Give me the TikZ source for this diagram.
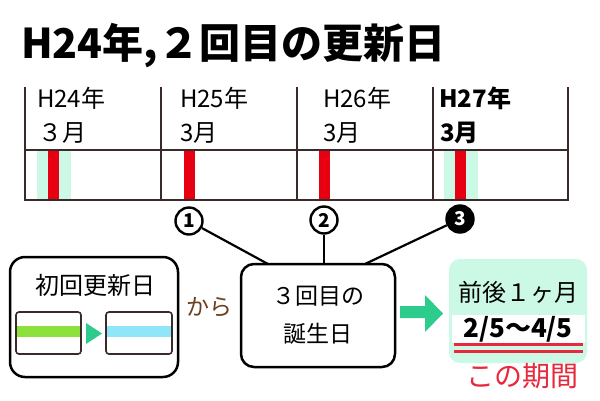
\documentclass[tikz,border=0pt]{standalone}
\usepackage{fontspec}
\setmainfont{Noto Sans CJK JP}
\definecolor{tabc}{HTML}{3A2A2A}
\definecolor{redbar}{HTML}{E60012}
\definecolor{mint}{HTML}{CCF8E6}
\definecolor{arrowg}{HTML}{2DCB8C}
\definecolor{greenbar}{HTML}{8EE03C}
\definecolor{cyanbar}{HTML}{8EE6F8}
\definecolor{brownt}{HTML}{6B3F1F}
\definecolor{redt}{HTML}{E8283C}
\tikzset{
  tline/.style={line width=1.8pt, draw=tabc},
  celltxt/.style={anchor=base west, inner sep=0pt, font=\fontsize{24}{24}\selectfont},
  rbar/.style={fill=redbar, draw=none},
  band/.style={fill=mint, draw=none},
  numc/.style={circle, draw=black, line width=2.4pt, minimum size=27pt, inner sep=0pt, font=\bfseries\fontsize{19}{19}\selectfont},
  conn/.style={line width=2.2pt, draw=black},
  bigbox/.style={draw=black, line width=2.5pt, rounded corners=13pt},
  minibox/.style={draw=tabc, line width=1.6pt, rounded corners=3pt},
}
\begin{document}
\begin{tikzpicture}[x=1pt,y=-1pt]
\useasboundingbox[fill=white] (0,0) rectangle (600,400);
% title
\node[anchor=base west, inner sep=0pt, font=\bfseries\fontsize{41}{41}\selectfont] (title) at (21,58) {H24年,２回目の更新日};
% table bands and bars
\fill[band] (37,150) rectangle (71,200);
\fill[band] (444,150) rectangle (478,200);
\fill[rbar] (48,150) rectangle (59,200);
\fill[rbar] (184,150) rectangle (195,200);
\fill[rbar] (319,150) rectangle (330,200);
\fill[rbar] (455,150) rectangle (466,200);
% table lines
\foreach \xx in {25,161,297,433,568} { \draw[tline] (\xx,87) -- (\xx,201); }
\draw[tline] (24,150) -- (569,150);
\draw[tline] (24,200) -- (569,200);
% cell texts
\node[celltxt] (y24) at (37,107) {H24年};
\node[celltxt] (m24) at (38,141) {３月};
\node[celltxt] (y25) at (180,107) {H25年};
\node[celltxt] (m25) at (180,141) {3月};
\node[celltxt] (y26) at (323,107) {H26年};
\node[celltxt] (m26) at (323,141) {3月};
\node[celltxt, font=\bfseries\fontsize{24}{24}\selectfont] (y27) at (439,107) {H27年};
\node[celltxt, font=\bfseries\fontsize{24}{24}\selectfont] (m27) at (440,141) {3月};
% circled numbers
\node[numc] (c1) at (189,221) {1};
\node[numc] (c2) at (324,220) {2};
\node[numc, fill=black, text=white] (c3) at (460,219) {3};
% middle box
\node[bigbox, minimum width=154pt, minimum height=103pt, align=center, font=\fontsize{23}{38}\selectfont] (mid) at (318,315.5) {３回目の\\誕生日};
\coordinate (m1) at (268,264);
\coordinate (m2) at (324,264);
\coordinate (m3) at (365,264);
\draw[conn] (c1) -- (m1);
\draw[conn] (c2) -- (m2);
\draw[conn] (c3) -- (m3);
% left box
\node[bigbox, rounded corners=15pt, minimum width=168pt, minimum height=120pt] (left) at (94,317) {};
\node[font=\fontsize{24}{24}\selectfont, inner sep=0pt] (first) at (95,285) {初回更新日};
\fill[greenbar] (17,326) rectangle (80,337);
\draw[minibox] (16,312) rectangle (81,354);
\fill[cyanbar] (107,326) rectangle (171,337);
\draw[minibox] (106,312) rectangle (172,354);
\fill[arrowg] (86,323) -- (102,333.5) -- (86,344) -- cycle;
\node[text=brownt, font=\fontsize{23}{23}\selectfont, inner sep=0pt] (kara) at (209,307) {から};
% right box
\node[fill=mint, rounded corners=11pt, minimum width=138pt, minimum height=104pt] (right) at (518,311) {};
\fill[white] (452,315) rectangle (585,343);
\node[font=\fontsize{24}{24}\selectfont, inner sep=0pt] (zengo) at (518,292) {前後１ヶ月};
\node[font=\bfseries\fontsize{26}{26}\selectfont, inner sep=0pt] (range) at (518,329) {2/5～4/5};
\draw[redt, line width=2.2pt] (454,344.5) -- (583,344.5);
\draw[redt, line width=2.2pt] (454,351.5) -- (583,351.5);
\node[text=redt, font=\fontsize{28}{28}\selectfont, inner sep=0pt] (kikan) at (522,376) {この期間};
% big arrow
\fill[arrowg] (400,306) -- (425,306) -- (425,295) -- (443,313.5) -- (425,332) -- (425,318) -- (400,318) -- cycle;
\end{tikzpicture}
\end{document}
